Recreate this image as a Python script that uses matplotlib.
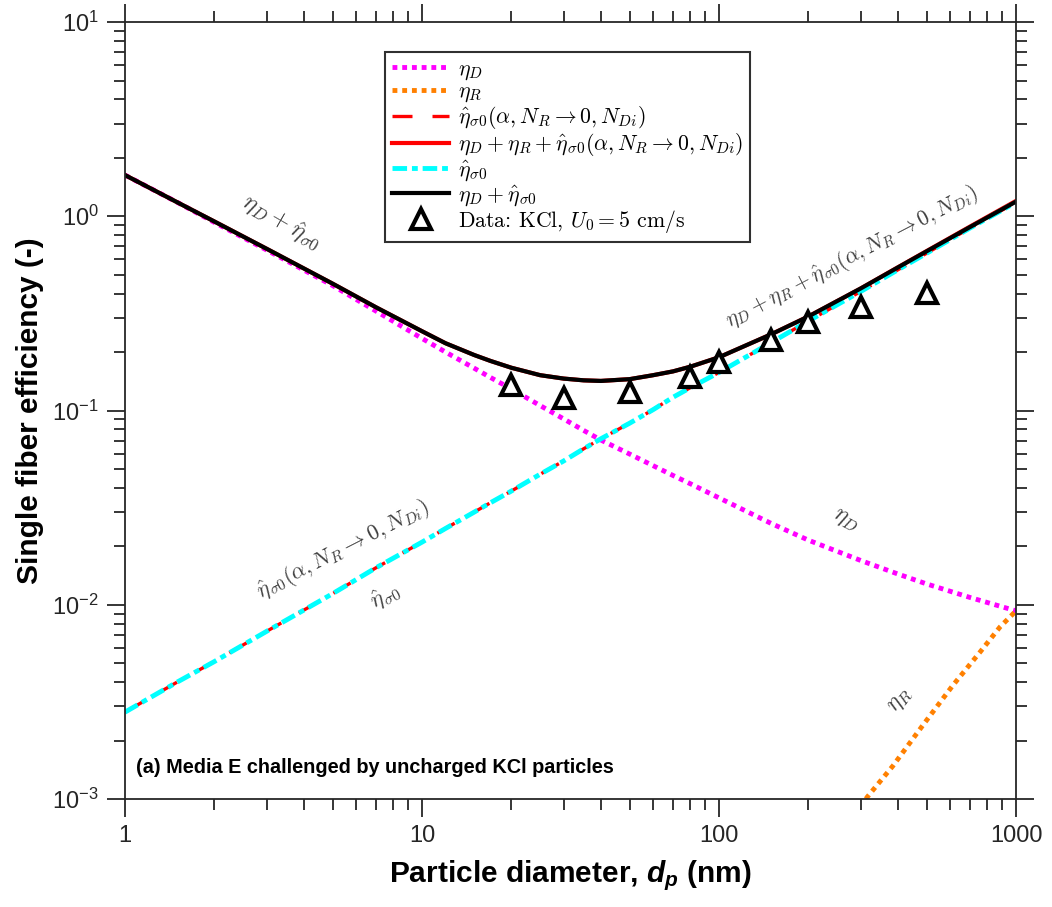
import matplotlib
matplotlib.use('Agg')
import matplotlib.pyplot as plt
import numpy as np

plt.rcParams['font.family'] = ['Liberation Sans', 'DejaVu Sans']
plt.rcParams['font.sans-serif'] = ['Liberation Sans', 'DejaVu Sans']
plt.rcParams['mathtext.fontset'] = 'cm'
# used only by texts that ask for math_fontfamily='custom' (x label)
plt.rcParams['mathtext.it'] = 'sans:italic:bold'

# --- values ---
# particle diameter (nm) for the model curves
dp_model = [1, 1.5, 2, 3, 5, 7, 10, 12, 15, 17, 20, 25, 30, 35, 40, 50, 60, 70, 80, 100,
            150, 200, 300, 400, 500, 700, 1000]

# diffusion efficiency eta_D (magenta dotted)
eta_D = [1.63, 1.18, 0.93, 0.67, 0.44, 0.325, 0.235, 0.200, 0.165, 0.148, 0.129, 0.106,
         0.0905, 0.079, 0.0705, 0.0597, 0.052, 0.0463, 0.042, 0.0355, 0.0262, 0.0215,
         0.0169, 0.0144, 0.0128, 0.0109, 0.0093]

# eta_hat_sigma0 (cyan) and eta_hat_sigma0(alpha, N_R->0, N_Di) (red dashed)
eta_s0 = [0.0028, 0.0040, 0.0051, 0.0073, 0.0114, 0.0155, 0.021, 0.0247, 0.030, 0.0335,
          0.0385, 0.047, 0.055, 0.0635, 0.0715, 0.086, 0.101, 0.117, 0.131, 0.157, 0.224,
          0.289, 0.41, 0.53, 0.645, 0.87, 1.18]
eta_s0_alpha = [0.0028, 0.0040, 0.0051, 0.0073, 0.0114, 0.0155, 0.021, 0.0247, 0.030,
                0.0335, 0.0385, 0.047, 0.055, 0.0635, 0.0715, 0.086, 0.101, 0.117, 0.131,
                0.157, 0.224, 0.289, 0.41, 0.53, 0.645, 0.87, 1.18]

# eta_D + eta_hat_sigma0 (black) and eta_D + eta_R + eta_hat_sigma0(...) (red solid)
eta_sum = [1.63, 1.18, 0.94, 0.68, 0.45, 0.34, 0.256, 0.222, 0.193, 0.180, 0.166, 0.152,
           0.146, 0.143, 0.142, 0.145, 0.152, 0.159, 0.168, 0.188, 0.247, 0.305, 0.425,
           0.545, 0.66, 0.88, 1.19]
eta_sum_R = [1.63, 1.18, 0.94, 0.68, 0.45, 0.34, 0.256, 0.222, 0.193, 0.180, 0.166, 0.152,
             0.146, 0.143, 0.142, 0.145, 0.152, 0.159, 0.168, 0.188, 0.247, 0.305, 0.425,
             0.546, 0.662, 0.885, 1.20]

# interception efficiency eta_R (orange dotted, only visible above 300 nm)
dp_R = [300, 315, 385, 486, 614, 757, 883, 1000]
eta_R = [0.00091, 0.00102, 0.00148, 0.0024, 0.00386, 0.00571, 0.00768, 0.0093]

# measured data, KCl, U0 = 5 cm/s
dp_data = [20, 30, 50, 80, 100, 150, 200, 300, 500]
eff_data = [0.135, 0.116, 0.1245, 0.149, 0.178, 0.231, 0.286, 0.341, 0.403]

x_ticks = [1, 10, 100, 1000]
x_ticklabels = ['1', '10', '100', '1000']
y_ticks = [1e-3, 1e-2, 1e-1, 1e0, 1e1]
y_ticklabels = [r'$\mathregular{10^{-3}}$', r'$\mathregular{10^{-2}}$', r'$\mathregular{10^{-1}}$',
                r'$\mathregular{10^{0}}$', r'$\mathregular{10^{1}}$']

fig = plt.figure(figsize=(10.52, 9.07), dpi=100)
ax = fig.add_axes([0.1188, 0.1191, 0.8470, 0.8566])

ax.plot(dp_model, eta_D, color='#ff00ff', lw=3.5, dashes=(1, 1), label=r'$\eta_D$')
ax.plot(dp_R, eta_R, color='#ff8000', lw=3.5, dashes=(1, 1), label=r'$\eta_R$')
ax.plot(dp_model, eta_s0_alpha, color='#ff0000', lw=2.4, dashes=(6, 6),
        label=r'$\hat{\eta}_{\sigma0}(\alpha, N_R \rightarrow 0, N_{Di})$')
ax.plot(dp_model, eta_sum_R, color='#ff0000', lw=3.0,
        label=r'$\eta_D + \eta_R + \hat{\eta}_{\sigma0}(\alpha, N_R \rightarrow 0, N_{Di})$')
ax.plot(dp_model, eta_s0, color='#00ffff', lw=3.5, dashes=(3.0, 1.0, 1.2, 1.0),
        label=r'$\hat{\eta}_{\sigma0}$')
ax.plot(dp_model, eta_sum, color='black', lw=3.0, label=r'$\eta_D + \hat{\eta}_{\sigma0}$')
ax.plot(dp_data, eff_data, linestyle='none', marker='^', ms=14.5, mew=3.0,
        mec='black', mfc='white', label=r'Data: KCl, $U_0 = 5$ cm/s')

ax.set_xscale('log')
ax.set_yscale('log')
ax.set_xlim(1, 1000)
ax.set_ylim(1e-3, 1e1)

ax.set_xticks(x_ticks)
ax.set_xticklabels(x_ticklabels)
ax.set_yticks(y_ticks)
ax.set_yticklabels(y_ticklabels)

ax.tick_params(which='both', direction='out', top=True, right=True,
               colors='#262626', labelsize=17, width=1.3)
ax.tick_params(which='major', length=13, pad=6)
ax.tick_params(which='minor', length=8)
for spine in ax.spines.values():
    spine.set_linewidth(1.3)
    spine.set_color('#262626')

ax.set_xlabel(r'Particle diameter, $d_p$ (nm)', fontsize=21.5, fontweight='bold',
              labelpad=8, math_fontfamily='custom')
ax.set_ylabel('Single fiber efficiency (-)', fontsize=21.5, fontweight='bold', labelpad=6)

leg = ax.legend(loc='upper left', bbox_to_anchor=(0.292, 0.961), borderaxespad=0,
                prop={'family': 'cmr10', 'size': 15.7}, handlelength=2.65,
                labelspacing=0.0, handletextpad=0.4, borderpad=0.3,
                fancybox=False, framealpha=1)
leg.get_frame().set_edgecolor('#303030')
leg.get_frame().set_linewidth(1.5)

# curve labels
txt_col = '#404040'
ax.text(282 / 1052, 1 - 222 / 907, r'$\eta_D + \hat{\eta}_{\sigma0}$', transform=fig.transFigure,
        rotation=-30, ha='center', va='center', fontsize=17.5, color=txt_col)
ax.text(852 / 1052, 1 - 257 / 907,
        r'$\eta_D + \eta_R + \hat{\eta}_{\sigma0}(\alpha, N_R \rightarrow 0, N_{Di})$',
        transform=fig.transFigure, rotation=27.5, ha='center', va='center', fontsize=15.5,
        color=txt_col)
ax.text(343 / 1052, 1 - 550 / 907, r'$\hat{\eta}_{\sigma0}(\alpha, N_R \rightarrow 0, N_{Di})$',
        transform=fig.transFigure, rotation=27, ha='center', va='center', fontsize=16,
        color=txt_col)
ax.text(385 / 1052, 1 - 596 / 907, r'$\hat{\eta}_{\sigma0}$', transform=fig.transFigure,
        rotation=27, ha='center', va='center', fontsize=16.5, color=txt_col)
ax.text(846 / 1052, 1 - 520 / 907, r'$\eta_D$', transform=fig.transFigure,
        rotation=-28, ha='center', va='center', fontsize=17, color=txt_col)
ax.text(900 / 1052, 1 - 700 / 907, r'$\eta_R$', transform=fig.transFigure,
        rotation=50, ha='center', va='center', fontsize=17, color=txt_col)

ax.text(0.012, 0.04, '(a) Media E challenged by uncharged KCl particles',
        transform=ax.transAxes, fontsize=14.3, fontweight='bold', ha='left', va='center')

fig.savefig('out.png', dpi=100)
